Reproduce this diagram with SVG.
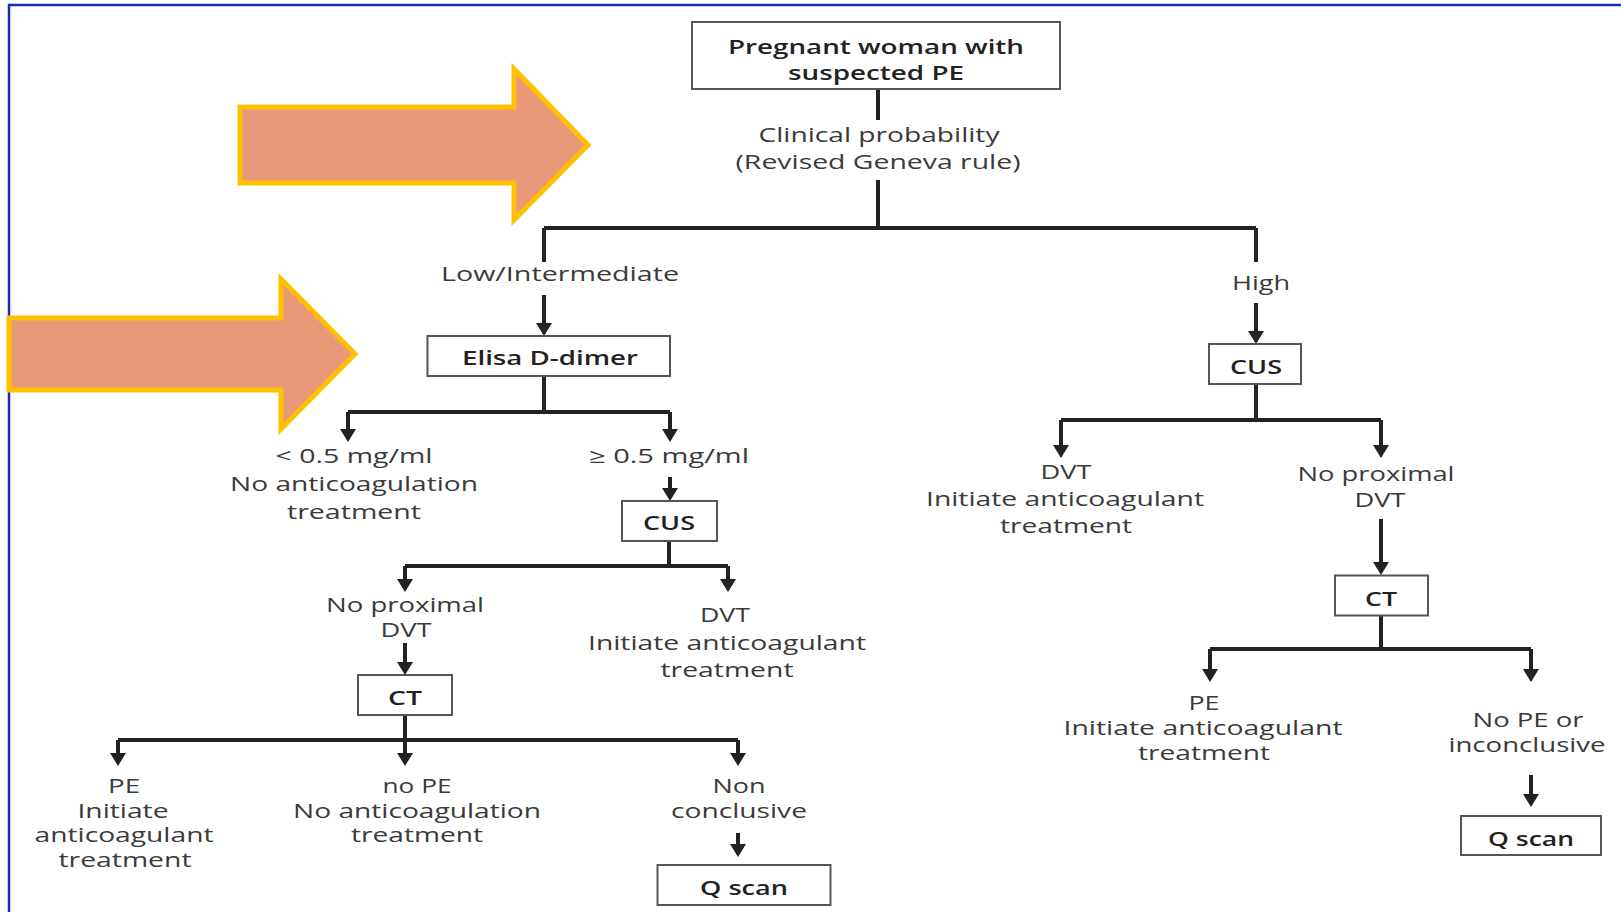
<svg xmlns="http://www.w3.org/2000/svg" width="1621" height="912" viewBox="0 0 1621 912">
  <style>
    .box { fill: #ffffff; stroke: #555555; stroke-width: 2; }
    .wire { fill: none; stroke: #222222; stroke-width: 4; }
    .arr { fill: none; stroke: #222222; stroke-width: 4; marker-end: url(#ah); }
    text { font-family: "Open Sans", "Liberation Sans", sans-serif; font-size: 20px; fill: #3a3a3a; text-anchor: middle; }
    .b { font-weight: 600; fill: #222222; }
    .big { fill: #E9997A; stroke: #FFC000; stroke-width: 5; stroke-linejoin: miter; }
    .frame { stroke: #1a2fae; stroke-width: 2.5; fill: none; }
  </style>
  <defs>
    <marker id="ah" markerUnits="userSpaceOnUse" viewBox="0 -8 13 16" markerWidth="13" markerHeight="16" refX="10" refY="0" orient="auto">
      <path d="M0,-8 L13,0 L0,8 Z" fill="#222222"/>
    </marker>
  </defs>

  <rect width="1621" height="912" fill="#ffffff"/>
  <!-- slide frame -->
  <path class="frame" d="M9,912 V5 H1621"/>

  <!-- highlight arrows -->
  <polygon class="big" points="240,107 514,107 514,69 588,145 514,220 514,183 240,183"/>
  <polygon class="big" points="9,318 281,318 281,279 355,354 281,429 281,390 9,390"/>

  <!-- connectors -->
  <g id="connectors">
    <path class="wire" d="M878,89 V120 M878,180 V228 M544,228 H1256 M544,228 V262 M1256,228 V262"/>
    <path class="arr" d="M544,295 V333"/>
    <path class="arr" d="M1256,303 V341"/>
    <path class="wire" d="M544,376 V412 M348,412 H670"/>
    <path class="arr" d="M348,412 V439"/>
    <path class="arr" d="M670,412 V439"/>
    <path class="arr" d="M670,477 V498"/>
    <path class="wire" d="M669,541 V566 M405,566 H728"/>
    <path class="arr" d="M405,566 V589"/>
    <path class="arr" d="M728,566 V589"/>
    <path class="arr" d="M405,643 V672"/>
    <path class="wire" d="M405,715 V740 M118,740 H738"/>
    <path class="arr" d="M118,740 V763"/>
    <path class="arr" d="M405,740 V763"/>
    <path class="arr" d="M738,740 V763"/>
    <path class="arr" d="M738,833 V854"/>
    <path class="wire" d="M1256,384 V420 M1061,420 H1381"/>
    <path class="arr" d="M1061,420 V455"/>
    <path class="arr" d="M1381,420 V455"/>
    <path class="arr" d="M1381,519 V572"/>
    <path class="wire" d="M1381,615 V649 M1210,649 H1531"/>
    <path class="arr" d="M1210,649 V679"/>
    <path class="arr" d="M1531,649 V679"/>
    <path class="arr" d="M1531,775 V804"/>
  </g>

  <!-- nodes -->
  <g id="start">
    <rect class="box" x="692" y="22" width="368" height="67"/>
    <text class="b" x="876" y="54" textLength="296" lengthAdjust="spacingAndGlyphs">Pregnant woman with</text>
    <text class="b" x="876" y="80" textLength="176" lengthAdjust="spacingAndGlyphs">suspected PE</text>
  </g>
  <g id="probability">
    <text x="879" y="142" textLength="241" lengthAdjust="spacingAndGlyphs">Clinical probability</text>
    <text x="878" y="169" textLength="285" lengthAdjust="spacingAndGlyphs">(Revised Geneva rule)</text>
  </g>
  <g id="low-label">
    <text x="560" y="281" textLength="238" lengthAdjust="spacingAndGlyphs">Low/Intermediate</text>
  </g>
  <g id="high-label">
    <text x="1261" y="290" textLength="58" lengthAdjust="spacingAndGlyphs">High</text>
  </g>
  <g id="ddimer">
    <rect class="box" x="427.5" y="336" width="242.5" height="40"/>
    <text class="b" x="550" y="365" textLength="176" lengthAdjust="spacingAndGlyphs">Elisa D-dimer</text>
  </g>
  <g id="cus-high">
    <rect class="box" x="1209" y="344" width="92" height="40"/>
    <text class="b" x="1256" y="374" textLength="52" lengthAdjust="spacingAndGlyphs">CUS</text>
  </g>
  <g id="dd-negative">
    <text x="354" y="463" textLength="157" lengthAdjust="spacingAndGlyphs">&lt; 0.5 mg/ml</text>
    <text x="354" y="491" textLength="248" lengthAdjust="spacingAndGlyphs">No anticoagulation</text>
    <text x="354" y="519" textLength="134" lengthAdjust="spacingAndGlyphs">treatment</text>
  </g>
  <g id="dd-positive">
    <text x="669" y="463" textLength="160" lengthAdjust="spacingAndGlyphs">≥ 0.5 mg/ml</text>
  </g>
  <g id="cus-low">
    <rect class="box" x="622" y="501" width="95" height="40"/>
    <text class="b" x="669" y="530" textLength="52" lengthAdjust="spacingAndGlyphs">CUS</text>
  </g>
  <g id="high-dvt">
    <text x="1066" y="479" textLength="51" lengthAdjust="spacingAndGlyphs">DVT</text>
    <text x="1065" y="506" textLength="278" lengthAdjust="spacingAndGlyphs">Initiate anticoagulant</text>
    <text x="1066" y="533" textLength="132" lengthAdjust="spacingAndGlyphs">treatment</text>
  </g>
  <g id="high-no-dvt">
    <text x="1376" y="481" textLength="157" lengthAdjust="spacingAndGlyphs">No proximal</text>
    <text x="1380" y="507" textLength="51" lengthAdjust="spacingAndGlyphs">DVT</text>
  </g>
  <g id="ct-high">
    <rect class="box" x="1335" y="575.5" width="93" height="40"/>
    <text class="b" x="1381" y="606" textLength="32" lengthAdjust="spacingAndGlyphs">CT</text>
  </g>
  <g id="low-no-dvt">
    <text x="405" y="612" textLength="158" lengthAdjust="spacingAndGlyphs">No proximal</text>
    <text x="406" y="637" textLength="51" lengthAdjust="spacingAndGlyphs">DVT</text>
  </g>
  <g id="low-dvt">
    <text x="725" y="622" textLength="50" lengthAdjust="spacingAndGlyphs">DVT</text>
    <text x="727" y="650" textLength="278" lengthAdjust="spacingAndGlyphs">Initiate anticoagulant</text>
    <text x="727" y="677" textLength="133" lengthAdjust="spacingAndGlyphs">treatment</text>
  </g>
  <g id="ct-low">
    <rect class="box" x="358" y="675" width="94" height="40"/>
    <text class="b" x="405" y="705" textLength="34" lengthAdjust="spacingAndGlyphs">CT</text>
  </g>
  <g id="low-pe">
    <text x="124" y="793" textLength="32" lengthAdjust="spacingAndGlyphs">PE</text>
    <text x="123" y="818" textLength="91" lengthAdjust="spacingAndGlyphs">Initiate</text>
    <text x="124" y="842" textLength="179" lengthAdjust="spacingAndGlyphs">anticoagulant</text>
    <text x="125" y="867" textLength="133" lengthAdjust="spacingAndGlyphs">treatment</text>
  </g>
  <g id="low-no-pe">
    <text x="417" y="793" textLength="69" lengthAdjust="spacingAndGlyphs">no PE</text>
    <text x="417" y="818" textLength="248" lengthAdjust="spacingAndGlyphs">No anticoagulation</text>
    <text x="417" y="842" textLength="132" lengthAdjust="spacingAndGlyphs">treatment</text>
  </g>
  <g id="low-nonconclusive">
    <text x="739" y="793" textLength="53" lengthAdjust="spacingAndGlyphs">Non</text>
    <text x="739" y="818" textLength="136" lengthAdjust="spacingAndGlyphs">conclusive</text>
  </g>
  <g id="qscan-low">
    <rect class="box" x="657.5" y="865" width="173" height="40"/>
    <text class="b" x="744" y="895" textLength="88" lengthAdjust="spacingAndGlyphs">Q scan</text>
  </g>
  <g id="high-pe">
    <text x="1204" y="710" textLength="31" lengthAdjust="spacingAndGlyphs">PE</text>
    <text x="1203" y="735" textLength="279" lengthAdjust="spacingAndGlyphs">Initiate anticoagulant</text>
    <text x="1204" y="760" textLength="132" lengthAdjust="spacingAndGlyphs">treatment</text>
  </g>
  <g id="high-no-pe">
    <text x="1528" y="727" textLength="111" lengthAdjust="spacingAndGlyphs">No PE or</text>
    <text x="1527" y="752" textLength="157" lengthAdjust="spacingAndGlyphs">inconclusive</text>
  </g>
  <g id="qscan-high">
    <rect class="box" x="1461" y="816" width="140" height="39"/>
    <text class="b" x="1531" y="846" textLength="86" lengthAdjust="spacingAndGlyphs">Q scan</text>
  </g>
</svg>
